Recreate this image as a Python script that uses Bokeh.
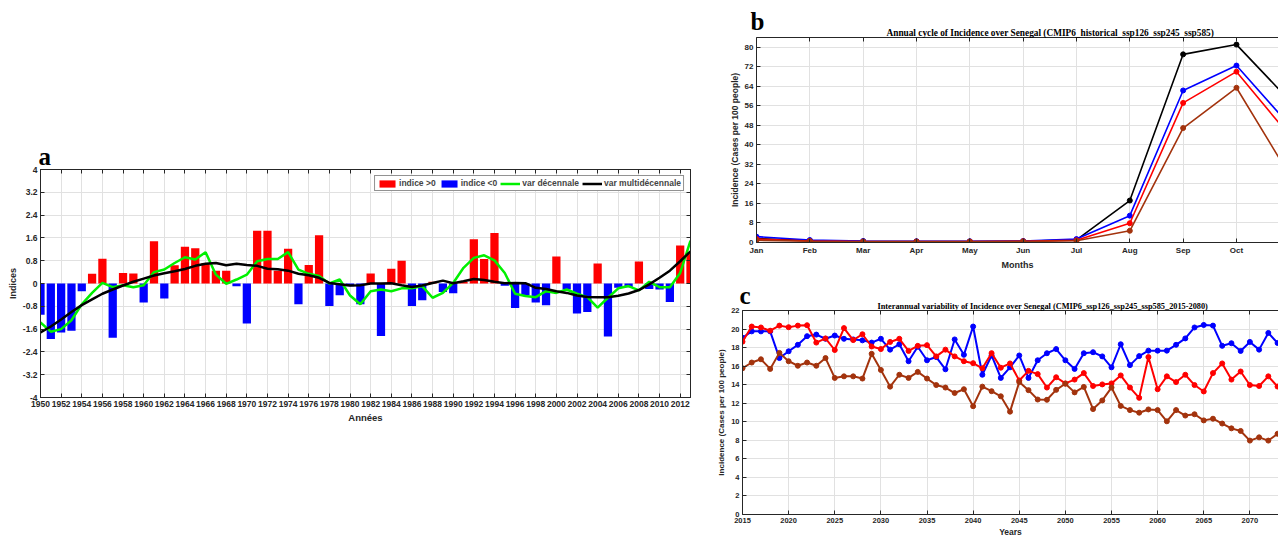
from bokeh.plotting import figure
from bokeh.layouts import row, column
from bokeh.models import (Range1d, FixedTicker, CustomJSTickFormatter, LinearAxis,
                          Legend, LegendItem, Spacer, Title)
from bokeh.embed import file_html
from bokeh.resources import INLINE

# ---------------- data : panel a ----------------
years_a = list(range(1950, 2014))
indice = [-1.10, -1.95, -1.72, -1.66, -0.27, 0.34, 0.87, -1.90, 0.37, 0.35,
          -0.67, 1.48, -0.53, 0.64, 1.29, 1.24, 0.72, 0.45, 0.45, -0.10,
          -1.40, 1.85, 1.85, 0.45, 1.22, -0.73, 0.65, 1.69, -0.79, -0.41,
          -0.10, -0.73, 0.35, -1.84, 0.52, 0.80, -0.79, -0.59, 0.06, -0.30,
          -0.34, 0.05, 1.55, 0.86, 1.77, -0.08, -0.86, -0.41, -0.67, -0.76,
          0.95, -0.21, -1.05, -1.00, 0.70, -1.86, -0.15, -0.13, 0.77, -0.19,
          -0.21, -0.65, 1.33, 1.05]
var_decennale = [-1.37, -1.69, -1.60, -1.29, -0.73, -0.33, 0.02, -0.13, -0.06, -0.13,
                 -0.06, 0.40, 0.49, 0.72, 0.92, 0.84, 1.10, 0.31, -0.01, 0.14,
                 0.31, 0.78, 0.86, 0.86, 1.10, 0.49, 0.34, 0.26, 0.00, 0.14,
                 -0.42, -0.73, -0.27, -0.21, -0.27, -0.17, -0.17, -0.09, -0.50, -0.33,
                 0.02, 0.55, 0.90, 0.99, 0.81, 0.37, -0.36, -0.44, -0.48, -0.27,
                 -0.33, -0.21, -0.36, -0.48, -0.85, -0.50, -0.17, -0.09, -0.24, 0.06,
                 -0.13, -0.13, 0.37, 1.50]
var_multidecennale = [-1.72, -1.51, -1.26, -1.00, -0.76, -0.56, -0.36, -0.21, -0.07, 0.06,
                      0.17, 0.28, 0.36, 0.43, 0.51, 0.62, 0.69, 0.72, 0.64, 0.69,
                      0.65, 0.62, 0.52, 0.50, 0.45, 0.34, 0.29, 0.20, 0.02, -0.03,
                      -0.07, -0.06, 0.00, 0.00, 0.01, -0.06, -0.12, -0.07, 0.02, 0.10,
                      0.01, 0.08, 0.16, 0.12, 0.06, 0.01, 0.02, 0.01, -0.15, -0.19,
                      -0.27, -0.33, -0.42, -0.47, -0.48, -0.48, -0.43, -0.35, -0.23, -0.03,
                      0.20, 0.45, 0.78, 1.13]
xticks_a = list(range(1950, 2013, 2))
yticks_a = [-4, -3.2, -2.4, -1.6, -0.8, 0, 0.8, 1.6, 2.4, 3.2, 4]

# ---------------- data : panel b ----------------
month_names = ["Jan", "Feb", "Mar", "Apr", "May", "Jun", "Jul", "Aug", "Sep", "Oct", "Nov", "Dec"]
month_idx = list(range(1, 12))
cycle_black = [1.6, 0.8, 0.5, 0.4, 0.4, 0.5, 1.1, 17.2, 77.1, 81.1, 58.1]
cycle_blue = [2.4, 1.0, 0.6, 0.5, 0.5, 0.6, 1.4, 11.0, 62.3, 72.5, 47.9]
cycle_red = [1.4, 0.6, 0.4, 0.4, 0.4, 0.5, 0.9, 7.9, 57.2, 70.0, 43.6]
cycle_brown = [0.9, 0.5, 0.3, 0.3, 0.3, 0.4, 0.7, 4.8, 46.9, 63.4, 27.4]
yticks_b = list(range(0, 81, 8))

# ---------------- data : panel c ----------------
years_c = list(range(2015, 2074))
inter_blue = [19.06, 19.75, 19.75, 19.75, 16.87, 17.60, 18.30, 19.23, 19.40, 18.95,
              19.30, 18.95, 18.88, 18.78, 18.54, 18.95, 17.78, 18.36, 16.53, 18.09,
              16.63, 16.98, 15.66, 18.88, 17.22, 20.27, 15.07, 17.15, 14.73, 15.87,
              17.15, 14.73, 16.63, 17.39, 17.84, 16.63, 15.70, 17.39, 17.50, 17.05,
              15.87, 18.36, 16.11, 17.08, 17.67, 17.67, 17.67, 18.30, 18.99, 20.17,
              20.44, 20.37, 18.19, 18.47, 17.64, 18.61, 17.78, 19.58, 18.50]
inter_red = [18.64, 20.27, 20.17, 19.82, 20.37, 20.20, 20.37, 20.41, 18.54, 18.99,
             17.74, 20.10, 18.81, 19.44, 18.12, 17.84, 18.61, 18.95, 17.64, 18.19,
             18.26, 17.05, 17.78, 17.05, 16.53, 16.32, 15.77, 17.40, 15.83, 16.29,
             14.45, 15.49, 15.14, 13.69, 14.80, 14.14, 14.55, 15.25, 13.86, 14.03,
             14.14, 15.00, 13.69, 12.58, 16.98, 13.51, 14.90, 14.28, 15.07, 13.96,
             13.27, 15.25, 16.29, 14.55, 15.42, 13.96, 13.86, 14.90, 13.80]
inter_brown = [15.77, 16.39, 16.74, 15.70, 17.43, 16.53, 16.04, 16.39, 16.04, 16.87,
               14.73, 14.90, 14.90, 14.66, 17.33, 15.59, 13.79, 15.07, 14.73, 15.38,
               14.66, 13.96, 13.69, 13.10, 13.51, 11.68, 13.79, 13.30, 12.75, 11.09,
               14.28, 13.41, 12.40, 12.37, 13.44, 14.10, 13.17, 13.76, 11.37, 12.30,
               13.69, 11.71, 11.26, 10.98, 11.33, 11.26, 10.05, 11.26, 10.67, 10.81,
               10.15, 10.33, 9.81, 9.29, 9.01, 7.97, 8.32, 7.97, 8.70]
xticks_c = list(range(2015, 2075, 5))
yticks_c = list(range(0, 23, 2))

# ---------------- styles ----------------
SANS = "Liberation Sans"
SERIF = "Liberation Serif"
AXC = "#262626"
GRIDC = "#e1e1e1"
RED = "#FF0000"
BLUE = "#0000FF"
GREEN = "#00F000"
BROWN = "#A3330D"


def style_axis(ax, fs, label_fs="9px"):
    ax.axis_line_color = AXC
    ax.major_tick_line_color = AXC
    ax.minor_tick_line_color = None
    ax.major_tick_in = 4
    ax.major_tick_out = 0
    ax.major_label_text_font = SANS
    ax.major_label_text_font_style = "bold"
    ax.major_label_text_font_size = fs
    ax.major_label_text_color = AXC
    ax.major_label_standoff = 3
    ax.axis_label_text_font = SANS
    ax.axis_label_text_font_style = "bold"
    ax.axis_label_text_font_size = label_fs
    ax.axis_label_text_color = AXC
    ax.axis_label_standoff = 2


def blank_axis(ticks):
    ax = LinearAxis(ticker=FixedTicker(ticks=ticks),
                    formatter=CustomJSTickFormatter(code="return ''"))
    ax.axis_line_color = AXC
    ax.major_tick_line_color = AXC
    ax.minor_tick_line_color = None
    ax.major_tick_in = 4
    ax.major_tick_out = 0
    ax.major_label_standoff = 0
    ax.major_label_text_font_size = "0px"
    return ax


def base_fig(w, h, xr, yr, l, r, t, b):
    p = figure(width=w, height=h, x_range=xr, y_range=yr,
               output_backend="svg", toolbar_location=None,
               min_border_left=l, min_border_right=r,
               min_border_top=t, min_border_bottom=b)
    p.background_fill_color = "white"
    p.border_fill_color = "white"
    p.xgrid.grid_line_color = GRIDC
    p.ygrid.grid_line_color = GRIDC
    if "frame_align" in p.properties():
        p.frame_align = False
    return p


def add_title(p, txt, size, offset, standoff):
    p.add_layout(Title(text=txt, align="left", offset=offset, standoff=standoff,
                       text_font=SERIF, text_font_size=size, text_font_style="bold",
                       text_color="black"), "above")


# ---------------- panel a ----------------
WA, HA = 700, 292
A_L, A_R, A_T, A_B = 40, 10, 28, 35
pA = base_fig(WA, HA, Range1d(1950, 2013), Range1d(-4, 4), A_L, A_R, A_T, A_B)
pA.outline_line_color = AXC
pA.xaxis.ticker = FixedTicker(ticks=xticks_a)
pA.yaxis.ticker = FixedTicker(ticks=yticks_a)
pA.xgrid.ticker = FixedTicker(ticks=xticks_a)
pA.ygrid.ticker = FixedTicker(ticks=yticks_a)
pA.yaxis.formatter = CustomJSTickFormatter(code="return String(Math.round(tick*10)/10)")
style_axis(pA.xaxis[0], "8.5px", "9.5px")
style_axis(pA.yaxis[0], "8.5px", "9px")
pA.xaxis.axis_label = "Années"
pA.yaxis.axis_label = "Indices"
pA.add_layout(blank_axis(xticks_a), "above")
pA.add_layout(blank_axis(yticks_a), "right")

pos_x = [y for y, v in zip(years_a, indice) if v > 0]
pos_v = [v for v in indice if v > 0]
neg_x = [y for y, v in zip(years_a, indice) if v <= 0]
neg_v = [v for v in indice if v <= 0]
r_pos = pA.vbar(x=pos_x, top=pos_v, bottom=0, width=0.8, fill_color=RED, line_color=None)
r_neg = pA.vbar(x=neg_x, top=neg_v, bottom=0, width=0.8, fill_color=BLUE, line_color=None)
r_dec = pA.line(years_a, var_decennale, line_color=GREEN, line_width=2.5)
r_mul = pA.line(years_a, var_multidecennale, line_color="black", line_width=2.5)

legA = Legend(items=[LegendItem(label="indice >0", renderers=[r_pos]),
                     LegendItem(label="indice <0", renderers=[r_neg]),
                     LegendItem(label="var décennale", renderers=[r_dec]),
                     LegendItem(label="var multidécennale", renderers=[r_mul])],
              location="top_right", orientation="horizontal")
legA.margin = 6
legA.padding = 2
legA.spacing = 3
legA.glyph_width = 20
legA.glyph_height = 9
legA.label_height = 9
legA.label_standoff = 2
legA.label_text_font = SANS
legA.label_text_font_style = "bold"
legA.label_text_font_size = "8.5px"
legA.border_line_color = AXC
legA.background_fill_color = "white"
legA.background_fill_alpha = 1.0
pA.add_layout(legA)
add_title(pA, "a", "25px", -2, 0)

# ---------------- panel b ----------------
WB, HB = 578, 272
B_L, B_R, B_T, B_B = 56, 0, 37, 26
px_per_month = 53.33
pB = base_fig(WB, HB, Range1d(1, 1 + (WB - B_L) / px_per_month), Range1d(0, 84),
              B_L, B_R, B_T, B_B)
pB.outline_line_color = None
pB.xaxis.ticker = FixedTicker(ticks=list(range(1, 13)))
pB.xaxis.major_label_overrides = {i + 1: m for i, m in enumerate(month_names)}
pB.yaxis.ticker = FixedTicker(ticks=yticks_b)
pB.xgrid.ticker = FixedTicker(ticks=list(range(1, 13)))
pB.ygrid.ticker = FixedTicker(ticks=yticks_b)
style_axis(pB.xaxis[0], "8px", "9px")
style_axis(pB.yaxis[0], "8px", "8.5px")
pB.xaxis.axis_label = "Months"
pB.yaxis.axis_label = "Incidence (Cases per 100 people)"
pB.add_layout(blank_axis(list(range(1, 13))), "above")

for ys, c in [(cycle_black, "black"), (cycle_blue, BLUE), (cycle_red, RED), (cycle_brown, BROWN)]:
    pB.line(month_idx, ys, line_color=c, line_width=1.6)
    pB.scatter(month_idx, ys, size=5, marker="circle", fill_color=c, line_color=c)

add_title(pB, "Annual cycle of Incidence over Senegal (CMIP6_historical_ssp126_ssp245_ssp585)",
          "9.3px", 130, 0)
add_title(pB, "b", "25px", -6, -19)

# ---------------- panel c ----------------
WC, HC = 578, 267
C_L, C_R, C_T, C_B = 42, 0, 38, 22
px_per_year = 9.225
pC = base_fig(WC, HC, Range1d(2015, 2015 + (WC - C_L) / px_per_year), Range1d(0, 22),
              C_L, C_R, C_T, C_B)
pC.outline_line_color = None
pC.xaxis.ticker = FixedTicker(ticks=xticks_c)
pC.yaxis.ticker = FixedTicker(ticks=yticks_c)
pC.xgrid.ticker = FixedTicker(ticks=xticks_c)
pC.ygrid.ticker = FixedTicker(ticks=yticks_c)
style_axis(pC.xaxis[0], "7.5px", "8.5px")
style_axis(pC.yaxis[0], "7.5px", "8px")
pC.xaxis.axis_label_standoff = 1
pC.xaxis.axis_label = "Years"
pC.yaxis.axis_label = "Incidence (Cases per 100 people)"
pC.add_layout(blank_axis(xticks_c), "above")

for ys, c in [(inter_blue, BLUE), (inter_red, RED), (inter_brown, BROWN)]:
    pC.line(years_c, ys, line_color=c, line_width=2)
    pC.scatter(years_c, ys, size=5, marker="circle", fill_color=c, line_color=c)

add_title(pC, "Interannual variability of Incidence over Senegal (CMIP6_ssp126_ssp245_ssp585_2015-2080)",
          "8.3px", 135, 0)
add_title(pC, "c", "25px", -3, -18)

layout = row(column(Spacer(width=WA, height=140), pA), column(row(pB), row(pC)))

with open("out.html", "w") as f:
    f.write(file_html(layout, INLINE))
